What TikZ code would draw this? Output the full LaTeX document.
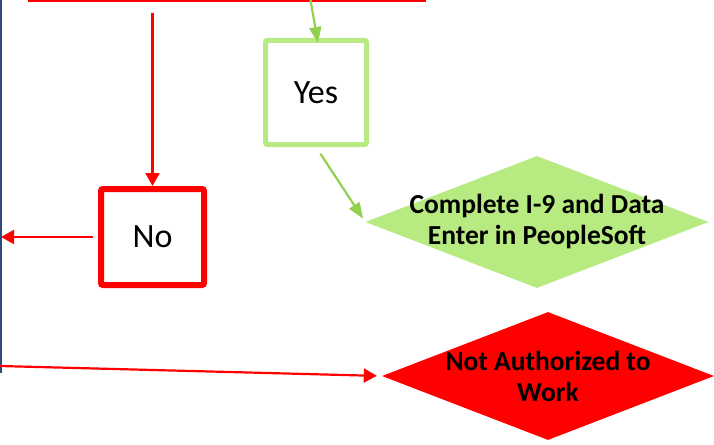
\documentclass[tikz,border=0pt]{standalone}
\usepackage{fontspec}
\setmainfont{Carlito}
\usetikzlibrary{arrows.meta,shapes.geometric,calc}
\definecolor{myred}{RGB}{255,0,0}
\definecolor{lgreen}{RGB}{183,235,130}
\definecolor{agreen}{RGB}{146,208,80}
\definecolor{navyline}{RGB}{47,74,125}
\begin{document}
\begin{tikzpicture}[x=1pt,y=-1pt,
  redarrow/.style={draw=myred, line width=2.2pt, -{Triangle[length=13pt,width=14pt]}},
  greenarrow/.style={draw=agreen, line width=2.2pt, -{Triangle[length=16pt,width=12pt]}},
  answerbox/.style={rectangle, rounded corners=2pt, inner sep=0pt, fill=white,
    font=\fontsize{34}{38}\selectfont},
  diatext/.style={font=\bfseries\fontsize{27.5}{31}\selectfont, align=center},
  dia/.style={diamond, inner sep=0pt}
]
\useasboundingbox (0,0) rectangle (714,444);
\clip (0,0) rectangle (714,444);
% cut-off top box
\node[draw=myred, line width=3pt, minimum width=395pt, minimum height=80pt, inner sep=0pt] (top) at (227,-39.5) {};
% left navy line
\coordinate (l0) at (1,0);
\coordinate (l1) at (1,373);
\draw[navyline, line width=1.5pt] (l0) -- (l1);
% boxes
\node[answerbox, draw=lgreen, line width=5pt, minimum width=101pt, minimum height=104pt] (yes) at (316,92.5) {Yes};
\node[answerbox, draw=myred, line width=6pt, minimum width=103pt, minimum height=96pt] (no) at (152.5,237) {No};
% diamonds
\node[dia, fill=lgreen, minimum width=343pt, minimum height=132pt] (enter) at (537,222) {};
\node[diatext] (entertext) at (enter.center) {Complete I-9 and Data\\Enter in PeopleSoft};
\node[dia, fill=myred, minimum width=332pt, minimum height=128pt] (notauth) at (548,376) {};
\node[diatext] (notauthtext) at (notauth.center) {Not Authorized to\\Work};
% connectors
\coordinate (c1) at (152.5,13);
\draw[redarrow] (c1) -- (no.north);
\coordinate (g1) at (310.5,0);
\draw[greenarrow] (g1) -- ($(yes.north)+(2,5)$);
\draw[greenarrow, shorten <=8pt, shorten >=4pt] (yes.south) -- (enter.west);
\draw[redarrow] ([xshift=-5pt]no.west) -- (no.west -| l0);
\coordinate (l2) at (0,366);
\draw[redarrow, shorten >=5pt] (l2) -- (notauth.west);
\end{tikzpicture}
\end{document}
